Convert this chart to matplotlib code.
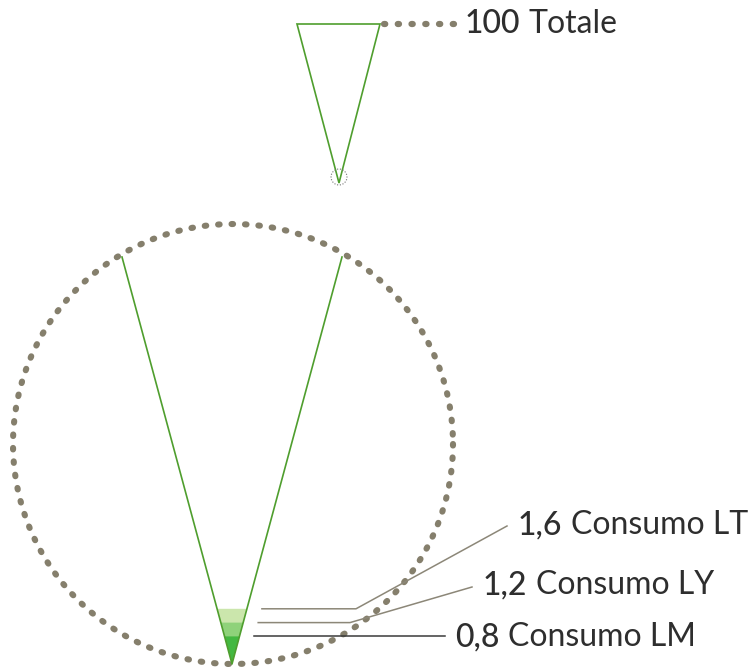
import numpy as np
import matplotlib
matplotlib.use("Agg")
from matplotlib import pyplot as plt
from matplotlib.patches import Polygon

# dati
totale = 100
valori = [1.6, 1.2, 0.8]
etichette = ["Consumo LT", "Consumo LY", "Consumo LM"]
colori = ["#cbe6ac", "#8fd27a", "#43b840"]
colori_linea = ["#8c8778", "#8c8778", "#3a3a3a"]

verde = "#4f9e2e"
grigio_punti = "#857f6c"
testo = "#2e2e2e"

W, H = 753, 671
fig = plt.figure(figsize=(W / 100, H / 100), dpi=100)
ax = fig.add_axes([0, 0, 1, 1])
ax.set_xlim(0, W)
ax.set_ylim(H, 0)
ax.axis("off")


def dotted_circle(cx, cy, r, lw, patt, color):
    t = np.linspace(0, 2 * np.pi, 600)
    ax.plot(cx + r * np.cos(t), cy + r * np.sin(t), color=color, lw=lw,
            linestyle=(0, patt), dash_capstyle="round")


def etichetta(x, y, num, nome):
    t = ax.text(x, y, num, fontsize=23, color=testo, family="Lato",
                fontweight=500, va="center", ha="left")
    ax.annotate(nome, xy=(1, 0.5), xycoords=t, xytext=(6, 0),
                textcoords="offset points", fontsize=23, color=testo,
                family="Lato", fontweight="normal", va="center", ha="left")


# triangolo piccolo (totale)
ax.add_patch(Polygon([(297, 24), (380, 24), (339, 183)], closed=True,
                     fill=False, ec=verde, lw=1.2))
dotted_circle(339, 177, 8, 1.0, (0.01, 2.0), "#777777")
ax.plot([384, 454], [24, 24], color=grigio_punti, lw=4.5, linestyle=(0, (0.2, 2.0)),
        dash_capstyle="round")
etichetta(465, 24, str(totale), "Totale")

# cerchio grande (zoom)
dotted_circle(233, 444, 220, 4.4, (0.25, 1.95), grigio_punti)

apice = (232, 664)
sx, dx = (122, 257), (342, 257)
ax.plot([sx[0], apice[0], dx[0]], [sx[1], apice[1], dx[1]], color=verde, lw=1.2)

# fasce dei consumi
k = 34.5  # pixel per unita
pend_s = (apice[0] - sx[0]) / (apice[1] - sx[1])
pend_d = (dx[0] - apice[0]) / (apice[1] - dx[1])
for v, c in zip(valori, colori):
    y = apice[1] - v * k
    h = apice[1] - y
    ax.add_patch(Polygon([(apice[0] - pend_s * h, y), (apice[0] + pend_d * h, y), apice],
                         closed=True, fc=c, ec="none", zorder=1))

# linee guida ed etichette
fine = [(507, 526), (472, 587), None]
pos_testo = [(518, 525), (483, 585), (455, 637)]
gomito = [356, 350, 445]
for v, nome, lc, f, p, g in zip(valori, etichette, colori_linea, fine, pos_testo, gomito):
    y = apice[1] - v * k
    x0 = apice[0] + pend_d * (v * k) + 15
    xs, ys = [x0, g], [y, y]
    if f is not None:
        xs.append(f[0])
        ys.append(f[1])
    ax.plot(xs, ys, color=lc, lw=1.1)
    etichetta(p[0], p[1], f"{v:.1f}".replace(".", ","), nome)

fig.savefig("out.png", dpi=100, facecolor="white")
